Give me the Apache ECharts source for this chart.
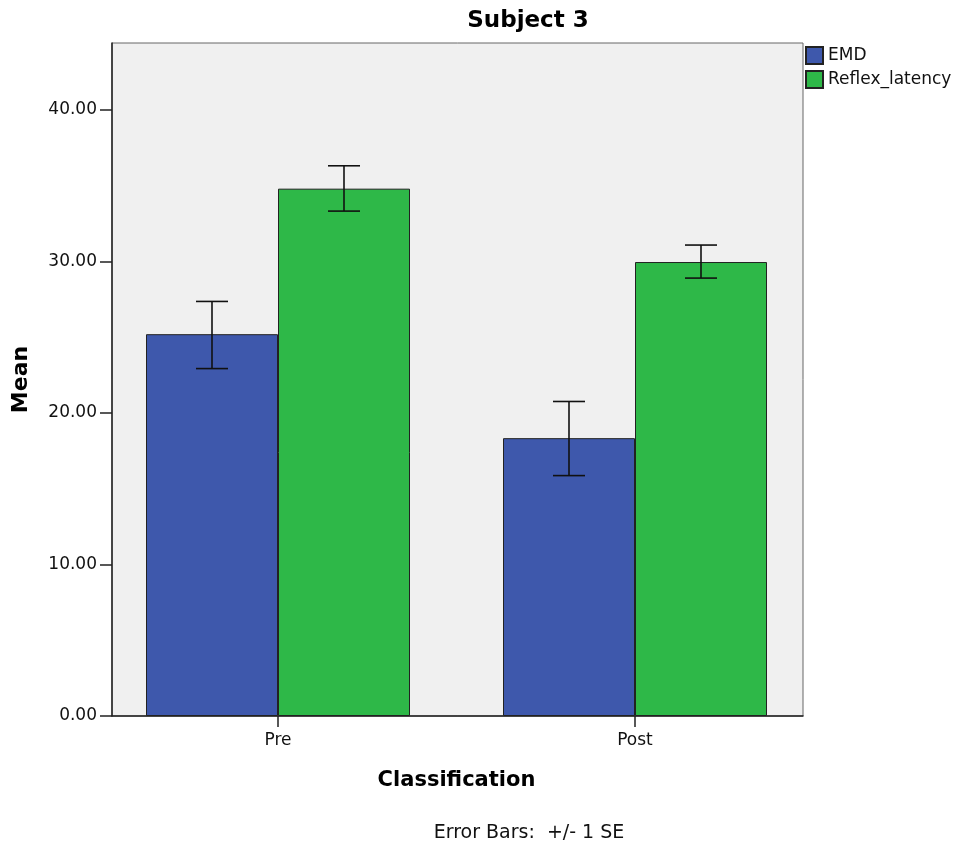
<!DOCTYPE html>
<html>
<head>
<meta charset="utf-8">
<script src="https://cdn.jsdelivr.net/npm/echarts@6/dist/echarts.min.js"></script>
<style>
html,body{margin:0;padding:0;background:#fff;}
#chart{width:958px;height:851px;}
</style>
</head>
<body>
<div id="chart"></div>
<script>
const categories = ['Pre', 'Post'];
const seriesNames = ['EMD', 'Reflex_latency'];
const emdMean = [25.19, 18.33];
const emdLow = [22.92, 15.86];
const emdHigh = [27.35, 20.75];
const reflexMean = [34.79, 29.95];
const reflexLow = [33.31, 28.89];
const reflexHigh = [36.30, 31.07];
const yTicks = [0, 10, 20, 30, 40];

const FONT = 'DejaVu Sans';
const BAR_W = 132;
const colors = ['#3e58ac', '#2eb848'];

const chart = echarts.init(document.getElementById('chart'), null, {renderer: 'canvas'});

function errData(low, high) {
  return categories.map((c, i) => [i, low[i], high[i]]);
}

function errRender(sign) {
  return function (params, api) {
    const x0 = api.coord([api.value(0), api.value(1)]);
    const x1 = api.coord([api.value(0), api.value(2)]);
    const x = x0[0] + sign * BAR_W / 2;
    const cap = 16;
    const style = {stroke: '#111', lineWidth: 1.6};
    return {
      type: 'group',
      children: [
        {type: 'line', shape: {x1: x, y1: x0[1], x2: x, y2: x1[1]}, style: style},
        {type: 'line', shape: {x1: x - cap, y1: x0[1], x2: x + cap, y2: x0[1]}, style: style},
        {type: 'line', shape: {x1: x - cap, y1: x1[1], x2: x + cap, y2: x1[1]}, style: style}
      ]
    };
  };
}

const yMax = 44.4;

const option = {
  animation: false,
  backgroundColor: '#ffffff',
  textStyle: {fontFamily: FONT},
  graphic: [
    {type: 'text', x: 528, y: 21, style: {text: 'Subject 3', fontFamily: FONT, fontSize: 23, fontWeight: 'bold', fill: '#000', align: 'center', verticalAlign: 'middle'}},
    {type: 'text', x: 529, y: 833, style: {text: 'Error Bars:  +/- 1 SE', fontFamily: FONT, fontSize: 19, fill: '#111', align: 'center', verticalAlign: 'middle'}}
  ],
  legend: {
    orient: 'vertical',
    left: 805,
    top: 46,
    padding: 0,
    itemWidth: 17,
    itemHeight: 17,
    itemGap: 5,
    icon: 'rect',
    textStyle: {fontFamily: FONT, fontSize: 17, color: '#111'},
    data: seriesNames
  },
  grid: [
    {left: 112, right: 155, top: 43, bottom: 135, show: true, backgroundColor: '#f0f0f0', borderColor: '#666', borderWidth: 1},
    {left: 99.5, right: 144.5, top: 43, bottom: 135}
  ],
  xAxis: [
    {type: 'category', gridIndex: 0, data: categories,
     axisLine: {show: true, lineStyle: {color: '#222', width: 1.5}},
     axisTick: {show: false}, axisLabel: {show: false}},
    {type: 'category', gridIndex: 1, data: categories,
     axisLine: {show: false},
     axisTick: {show: true, alignWithLabel: true, length: 11, lineStyle: {color: '#222', width: 1.5}},
     axisLabel: {fontFamily: FONT, fontSize: 17, color: '#111', margin: 16},
     name: 'Classification', nameLocation: 'middle', nameGap: 54,
     nameTextStyle: {fontFamily: FONT, fontSize: 21, fontWeight: 'bold', color: '#000'}}
  ],
  yAxis: [
    {type: 'value', gridIndex: 0, min: 0, max: yMax, interval: 10,
     axisLine: {show: true, lineStyle: {color: '#222', width: 1.5}},
     axisTick: {show: true, length: 12, lineStyle: {color: '#222', width: 1.5}},
     splitLine: {show: false},
     axisLabel: {fontFamily: FONT, fontSize: 17, color: '#111', margin: 15, showMaxLabel: false,
       formatter: v => (yTicks.indexOf(v) >= 0 ? v.toFixed(2) : '')},
     name: 'Mean', nameLocation: 'middle', nameGap: 80, nameRotate: 90,
     nameTextStyle: {fontFamily: FONT, fontSize: 22, fontWeight: 'bold', color: '#000'}},
    {type: 'value', gridIndex: 1, min: 0, max: yMax, interval: 10, show: false, splitLine: {show: false}}
  ],
  series: [
    {name: seriesNames[0], type: 'bar', xAxisIndex: 1, yAxisIndex: 1, data: emdMean,
     barWidth: BAR_W, barGap: '0%',
     itemStyle: {color: colors[0], borderColor: '#222', borderWidth: 1}},
    {name: seriesNames[1], type: 'bar', xAxisIndex: 1, yAxisIndex: 1, data: reflexMean,
     barWidth: BAR_W, barGap: '0%',
     itemStyle: {color: colors[1], borderColor: '#222', borderWidth: 1}},
    {name: 'errEMD', type: 'custom', xAxisIndex: 1, yAxisIndex: 1, data: errData(emdLow, emdHigh),
     renderItem: errRender(-1), encode: {x: 0, y: [1, 2]}, z: 5},
    {name: 'errReflex', type: 'custom', xAxisIndex: 1, yAxisIndex: 1, data: errData(reflexLow, reflexHigh),
     renderItem: errRender(1), encode: {x: 0, y: [1, 2]}, z: 5}
  ]
};
chart.setOption(option);
</script>
</body>
</html>
